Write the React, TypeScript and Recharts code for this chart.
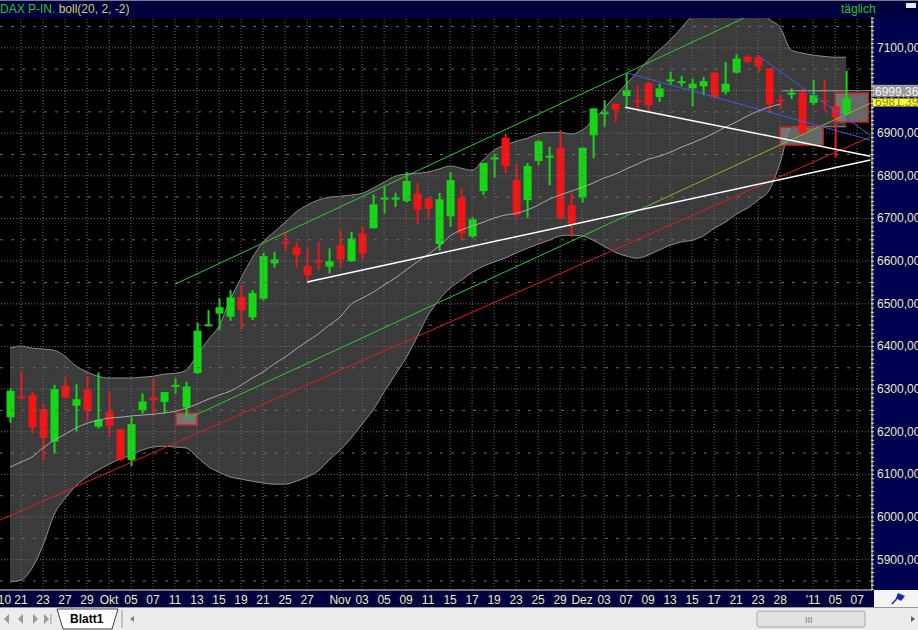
import React from 'react';
import {
  ComposedChart,
  Bar,
  Area,
  Line,
  XAxis,
  YAxis,
  ReferenceLine,
  ReferenceArea,
} from 'recharts';

// DAX daily candles, 20 Sep 2010 .. 06 Jan 2011 (index = trading day)
const openP = [
  6234, 6283, 6286, 6253, 6177, 6308, 6261, 6298, 6212, 6247,
  6206, 6134, 6251, 6280, 6270, 6307, 6257, 6338, 6450, 6477,
  6470, 6516, 6468, 6512, 6595, 6645, 6632, 6588, 6602, 6587,
  6637, 6600, 6665, 6677, 6745, 6746, 6741, 6758, 6747, 6640,
  6705, 6749, 6658, 6764, 6840, 6889, 6790, 6743, 6835, 6845,
  6866, 6731, 6749, 6895, 6946, 6969, 6987, 6977, 7018, 6985,
  7023, 7019, 7005, 7010, 7042, 6997, 7042, 7079, 7079, 7052,
  6979, 6992, 6995, 6971, 6977, 6963, 6945,
];
const highP = [
  6302, 6341, 6294, 6264, 6310, 6327, 6311, 6331, 6339, 6294,
  6206, 6235, 6290, 6325, 6293, 6325, 6317, 6456, 6485, 6513,
  6532, 6544, 6532, 6620, 6622, 6669, 6645, 6630, 6645, 6630,
  6671, 6669, 6682, 6756, 6776, 6760, 6809, 6783, 6748, 6760,
  6809, 6770, 6704, 6830, 6852, 6898, 6827, 6830, 6883, 6868,
  6907, 6760, 6866, 6958, 6977, 6969, 7040, 7012, 7018, 7016,
  7044, 7034, 7028, 7032, 7042, 7067, 7085, 7083, 7083, 7052,
  6989, 7005, 7005, 7024, 7024, 6963, 7046,
];
const lowP = [
  6221, 6276, 6196, 6132, 6149, 6278, 6200, 6226, 6208, 6188,
  6132, 6120, 6243, 6235, 6243, 6290, 6235, 6335, 6447, 6438,
  6460, 6440, 6462, 6508, 6585, 6624, 6585, 6555, 6579, 6571,
  6585, 6598, 6604, 6677, 6712, 6727, 6737, 6687, 6702, 6625,
  6680, 6649, 6655, 6755, 6796, 6805, 6705, 6702, 6825, 6778,
  6700, 6657, 6737, 6841, 6915, 6926, 6962, 6954, 6950, 6973,
  7013, 7010, 6963, 6989, 6981, 6991, 7040, 7066, 7041, 6948,
  6958, 6980, 6898, 6966, 6952, 6843, 6942,
];
const closeP = [
  6296, 6279, 6210, 6186, 6300, 6280, 6276, 6249, 6228, 6214,
  6135, 6218, 6271, 6274, 6293, 6310, 6306, 6437, 6452, 6492,
  6515, 6485, 6525, 6612, 6604, 6641, 6614, 6567, 6599, 6600,
  6604, 6653, 6618, 6733, 6749, 6749, 6788, 6721, 6723, 6745,
  6790, 6665, 6698, 6830, 6843, 6823, 6708, 6823, 6881, 6847,
  6700, 6688, 6866, 6958, 6949, 6955, 7001, 6973, 6966, 7005,
  7026, 7022, 7016, 7022, 6984, 7016, 7075, 7067, 7056, 6968,
  6976, 6995, 6899, 6989, 6974, 6937, 6981.39,
];

// Bollinger band boll(20, 2, -2)
const upperBand = [
  6396, 6401, 6396, 6394, 6391, 6377, 6354, 6340, 6330, 6326,
  6326, 6326, 6328, 6330, 6335, 6337, 6344, 6380, 6415, 6448,
  6509, 6560, 6607, 6645, 6668, 6691, 6715, 6731, 6743, 6750,
  6752, 6755, 6759, 6771, 6785, 6799, 6804, 6806, 6809, 6816,
  6823, 6818, 6813, 6837, 6860, 6872, 6881, 6888, 6898, 6902,
  6902, 6898, 6907, 6930, 6958, 6987, 7015, 7043, 7071, 7095,
  7118, 7146, 7175, 7195, 7210, 7220, 7225, 7220, 7205, 7168,
  7148, 7095, 7088, 7083, 7080, 7078, 7078,
];
const lowerBand = [
  5848, 5852, 5880, 5934, 6005, 6044, 6073, 6094, 6110, 6124,
  6136, 6145, 6157, 6164, 6166, 6164, 6162, 6141, 6119, 6105,
  6094, 6089, 6084, 6080, 6077, 6077, 6084, 6094, 6108, 6134,
  6157, 6185, 6218, 6251, 6293, 6333, 6373, 6422, 6473, 6509,
  6537, 6555, 6574, 6588, 6598, 6607, 6619, 6630, 6640, 6649,
  6659, 6661, 6659, 6649, 6635, 6621, 6612, 6607, 6614, 6626,
  6637, 6645, 6649, 6659, 6677, 6691, 6710, 6724, 6743, 6766,
  6830, 6915, 6915, 6915, 6915, 6915, 6915,
];
const midBand = [
  6117, 6129, 6141, 6162, 6180, 6194, 6209, 6220, 6227, 6232,
  6234, 6237, 6239, 6241, 6244, 6248, 6255, 6265, 6276, 6286,
  6295, 6309, 6326, 6340, 6359, 6375, 6394, 6412, 6429, 6450,
  6469, 6499, 6513, 6527, 6544, 6560, 6579, 6598, 6616, 6635,
  6659, 6673, 6682, 6691, 6701, 6708, 6712, 6720, 6731, 6745,
  6755, 6764, 6773, 6783, 6795, 6804, 6816, 6827, 6839, 6846,
  6855, 6867, 6877, 6888, 6900, 6914, 6926, 6940, 6952, 6961,
  6968,
];

// date axis: trading-day index and its label
const tickIdx = [
  -0.5, 1, 3, 5, 7, 9, 11, 13, 15, 17, 19, 21, 23, 25, 27,
  30, 32, 34, 36, 38, 40, 42, 44, 46, 48, 50, 52, 54, 56, 58,
  60, 62, 64, 66, 68, 70, 73, 75, 77,
];
const tickText = [
  '10', '21', '23', '27', '29', 'Okt', '05', '07', '11', '13', '15', '19', '21', '25', '27',
  'Nov', '03', '05', '09', '11', '15', '17', '19', '23', '25', '29', 'Dez', '03', '07', '09',
  '13', '15', '17', '21', '23', '28', "'11", '05', '07',
];

const priceTicks = [5900, 6000, 6100, 6200, 6300, 6400, 6500, 6600, 6700, 6800, 6900, 7000, 7100];
const halfTicks = [5850, 5950, 6050, 6150, 6250, 6350, 6450, 6550, 6650, 6750, 6850, 6950, 7050, 7150];
// 7000 sits under the price tags, so its text is not printed
const labelledTicks = [5900, 6000, 6100, 6200, 6300, 6400, 6500, 6600, 6700, 6800, 6900, 7100];

// drawn trend lines: [index, price] end points
const trendLines = [
  { id: 'channelTop', from: [15, 6546], to: [66.8, 7171] },
  { id: 'channelLow', from: [16, 6229], to: [58, 6730] },
  { id: 'channelLow2', from: [58, 6730], to: [78.2, 6970] },
  { id: 'redSupport', from: [-0.91, 5993], to: [78.2, 6891] },
  { id: 'whiteSupport', from: [27, 6551], to: [78.2, 6837] },
  { id: 'whiteDown', from: [55.9, 6961], to: [78.2, 6846] },
  { id: 'blueLong', from: [56.1, 7041], to: [78.2, 6884] },
  { id: 'blueShort', from: [67.9, 7083], to: [78.2, 6895] },
];
const lineColors: Record<string, string> = {
  channelTop: '#33c433',
  channelLow: '#33c433',
  channelLow2: '#8cb02a',
  redSupport: '#e01c1c',
  whiteSupport: '#ffffff',
  whiteDown: '#ffffff',
  blueLong: '#3a5be8',
  blueShort: '#3a5be8',
};

// marked zones
const zones = [
  { x1: 15.1, x2: 17, y1: 6216, y2: 6244 },
  { x1: 70, x2: 73.9, y1: 6872, y2: 6914 },
  { x1: 75, x2: 78, y1: 6926, y2: 6994 },
];

const refLevel = 6999.36;
const lastClose = 6981.39;

const GREEN = '#14d814';
const RED = '#f21414';
const AXIS_TEXT = '#ececb4';
const NAVY = '#00003e';
const FONT = '"Liberation Sans", Arial, sans-serif';

const fmt = (v: number) => v.toFixed(2).replace('.', ',');

const Candle = (props: any) => {
  const { x, y, width, height, payload } = props;
  if (!payload) return null;
  const { o, h, l, c } = payload;
  const span = h - l;
  const ppu = span > 0 ? height / span : 0;
  const yOf = (v: number) => y + (h - v) * ppu;
  const color = c >= o ? GREEN : RED;
  const cx = x + width / 2;
  const top = yOf(Math.max(o, c));
  const bot = yOf(Math.min(o, c));
  const bodyH = Math.max(bot - top, 2);
  return (
    <g>
      <rect x={cx - 1} y={y} width={2} height={Math.max(height, 1)} fill={color} />
      <rect x={x} y={top} width={width} height={bodyH} fill={color} />
    </g>
  );
};

const XTick = (props: any) => {
  const { x, y, payload } = props;
  const k = tickIdx.indexOf(payload.value);
  return (
    <text x={x} y={y + 12} textAnchor="middle" fill={AXIS_TEXT} fontSize={12} fontFamily={FONT}>
      {k >= 0 ? tickText[k] : ''}
    </text>
  );
};

const YTick = (props: any) => {
  const { x, y, payload } = props;
  const v = payload.value;
  const labelled = labelledTicks.includes(v);
  return (
    <g>
      <line x1={x - 5} x2={x - 2} y1={y} y2={y} stroke={AXIS_TEXT} strokeWidth={1} />
      {labelled && (
        <text x={x + 1} y={y + 4} textAnchor="start" fill={AXIS_TEXT} fontSize={12} fontFamily={FONT}>
          {fmt(v)}
        </text>
      )}
    </g>
  );
};

const minorTicks: number[] = [];
for (let v = 5830; v <= 7170; v += 10) minorTicks.push(v);

// price tag on the axis panel; top/bottom are offsets from the level's pixel row
const Tag = (bg: string, fg: string, value: number, top: number, bottom: number, base: number) => (p: any) => {
  const vb = p.viewBox || {};
  const x = (vb.x || 0) + (vb.width || 0) + 1;
  const y = vb.y || 0;
  return (
    <g>
      <rect x={x} y={y + top} width={46} height={bottom - top} fill={bg} />
      <text x={x + 2} y={y + base} fill={fg} fontSize={12} fontFamily={FONT}>
        {fmt(value)}
      </text>
    </g>
  );
};

export default function App() {
  const rows = openP.map((o, i) => ({
    i,
    o,
    h: highP[i],
    l: lowP[i],
    c: closeP[i],
    range: [lowP[i], highP[i]],
    band: [lowerBand[i], upperBand[i]],
    mid: i < midBand.length ? midBand[i] : null,
  }));

  return (
    <div style={{ position: 'fixed', left: 0, top: 0, width: 918, height: 630, overflow: 'hidden', background: '#000' }}>
      {/* header bar */}
      <div style={{ position: 'absolute', left: 0, top: 0, width: 918, height: 18, background: NAVY, borderTop: '1px solid #7a7a8a', boxSizing: 'border-box' }} />
      {/* right price panel */}
      <div style={{ position: 'absolute', left: 872, top: 18, width: 46, height: 572, background: '#000050' }} />
      {/* bottom date panel */}
      <div style={{ position: 'absolute', left: 0, top: 590, width: 874, height: 17, background: NAVY }} />
      <div style={{ position: 'absolute', left: 874, top: 590, width: 44, height: 17, background: '#f4f4f4' }}>
        <svg width={44} height={17}>
          <line x1={18} y1={14} x2={26} y2={5} stroke="#1a2a9a" strokeWidth={1.5} />
          <polygon points="24,3 31,6 27,11 22,8" fill="#1a2ab0" />
        </svg>
      </div>

      <div style={{ position: 'absolute', left: 0, top: 0 }}>
        <ComposedChart
          width={918}
          height={607}
          data={rows}
          margin={{ top: 18, right: 0, bottom: 0, left: 0 }}
        >
          <XAxis
            dataKey="i"
            type="number"
            domain={[-0.91, 78.35]}
            allowDataOverflow
            ticks={tickIdx}
            interval={0}
            height={17}
            tickLine={false}
            tickSize={0}
            axisLine={{ stroke: AXIS_TEXT, strokeWidth: 1 }}
            tick={<XTick />}
          />
          <YAxis
            orientation="right"
            type="number"
            domain={[5829, 7170]}
            allowDataOverflow
            ticks={minorTicks}
            interval={0}
            width={46}
            tickLine={false}
            tickSize={4}
            tickMargin={0}
            axisLine={{ stroke: AXIS_TEXT, strokeWidth: 1 }}
            tick={<YTick />}
          />

          <Area
            dataKey="band"
            type="monotone"
            stroke="#8e8e8e"
            strokeWidth={1}
            fill="#3b3b3b"
            fillOpacity={1}
            isAnimationActive={false}
            dot={false}
            activeDot={false}
          />

          {priceTicks.map((v) => (
            <ReferenceLine key={'g' + v} y={v} stroke="#6c6c6c" strokeDasharray="1 2" ifOverflow="hidden" />
          ))}
          {halfTicks.map((v) => (
            <ReferenceLine key={'h' + v} y={v} stroke="#6c6c6c" strokeDasharray="3 8" ifOverflow="hidden" />
          ))}
          {tickIdx.slice(1).map((v) => (
            <ReferenceLine key={'v' + v} x={v} stroke="#6c6c6c" strokeDasharray="1 2" ifOverflow="hidden" />
          ))}

          <Line
            dataKey="mid"
            type="monotone"
            stroke="#a8a8a8"
            strokeWidth={1}
            dot={false}
            activeDot={false}
            isAnimationActive={false}
          />

          <ReferenceLine
            segment={[{ x: 70.2, y: refLevel }, { x: 78.3, y: refLevel }]}
            stroke="#a0a0a0"
            strokeWidth={1}
            ifOverflow="hidden"
          />

          {zones.map((z, k) => (
            <ReferenceArea
              key={'z' + k}
              x1={z.x1}
              x2={z.x2}
              y1={z.y1}
              y2={z.y2}
              fill="#8a8a8a"
              fillOpacity={0.75}
              stroke="#c82828"
              strokeWidth={1.5}
              ifOverflow="hidden"
            />
          ))}

          {trendLines.map((t) => (
            <ReferenceLine
              key={t.id}
              segment={[{ x: t.from[0], y: t.from[1] }, { x: t.to[0], y: t.to[1] }]}
              stroke={lineColors[t.id]}
              strokeWidth={t.id.startsWith('white') ? 1.5 : 1}
              ifOverflow="hidden"
            />
          ))}

          <Bar
            dataKey="range"
            barSize={8}
            shape={<Candle />}
            isAnimationActive={false}
          />

          <ReferenceLine y={lastClose} stroke="none" label={Tag('#ffff30', '#8a8a20', lastClose, 0, 8, 8)} />
          <ReferenceLine y={refLevel} stroke="none" label={Tag('#9a9a9a', '#f4f4f4', refLevel, -6, 6, 5)} />
        </ComposedChart>
      </div>

      {/* title texts */}
      <div style={{ position: 'absolute', left: 0, top: 2, fontFamily: FONT, fontSize: 12, lineHeight: '14px', whiteSpace: 'nowrap' }}>
        <span style={{ color: '#22c622' }}>DAX P-IN. </span>
        <span style={{ color: '#cece6a' }}>boll(20, 2, -2)</span>
      </div>
      <div style={{ position: 'absolute', left: 841, top: 2, fontFamily: FONT, fontSize: 12, lineHeight: '14px', color: '#22c622' }}>täglich</div>
      <div style={{ position: 'absolute', left: 906, top: 3, width: 10, height: 5, background: '#e8e8e8' }} />

      {/* sheet tab bar */}
      <div style={{ position: 'absolute', left: 0, top: 607, width: 918, height: 23, background: '#ececec', borderTop: '1px solid #9a9a9a', boxSizing: 'border-box' }}>
        <svg width={918} height={22} style={{ position: 'absolute', left: 0, top: 0 }}>
          <polygon points="4,11 9,6 9,16" fill="#9a9a9a" />
          <polygon points="18,11 23,6 23,16" fill="#9a9a9a" />
          <polygon points="33,6 38,11 33,16" fill="#9a9a9a" />
          <polygon points="44,6 49,11 44,16" fill="#9a9a9a" />
          <line x1={51} y1={6} x2={51} y2={16} stroke="#9a9a9a" />
          <polygon points="57,1 63,21 112,21 118,1" fill="#ffffff" stroke="#404040" />
          <text x={70} y={15} fontSize={12} fontWeight="bold" fontFamily={FONT} fill="#000">Blatt1</text>
          <line x1={122} y1={2} x2={122} y2={20} stroke="#9a9a9a" />
          <polygon points="130,11 134,8 134,14" fill="#808080" />
          <rect x={757} y={3} width={108} height={16} rx={2} fill="#e2e2e2" stroke="#a8a8a8" />
          <text x={805} y={15} fontSize={9} fontFamily={FONT} fill="#808080">III</text>
          <polygon points="911,8 915,11 911,14" fill="#606060" />
        </svg>
      </div>
    </div>
  );
}
